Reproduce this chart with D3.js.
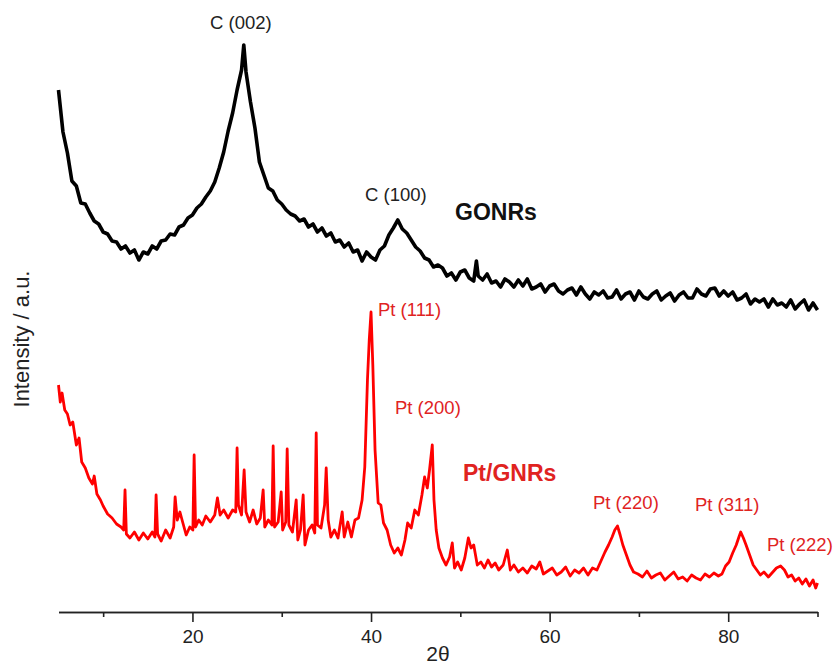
<!DOCTYPE html>
<html>
<head>
<meta charset="utf-8">
<script src="https://cdn.jsdelivr.net/npm/d3@7"></script>
<style>
  html, body { margin: 0; padding: 0; background: #fff; }
  svg { display: block; font-family: "Liberation Sans", Arial, sans-serif; }
</style>
</head>
<body>
<svg id="chart" width="837" height="665"></svg>
<script>
// ---- data (2θ in degrees, intensity in arbitrary units) ----
const gonrsTheta = [5,5.5,6,6.5,7,7.5,8,8.5,9,9.5,10,10.5,11,11.5,12,12.5,13,13.5,14,14.5,15,15.5,16,16.5,17,17.5,18,18.5,19,19.5,20,20.5,21,21.5,22,22.5,23,23.5,24,24.5,25,25.5,25.75,26,26.5,27,27.5,28,28.5,29,29.5,30,30.5,31,31.5,32,32.5,33,33.5,34,34.5,35,35.5,36,36.5,37,37.5,38,38.5,39,39.5,40,40.5,41,41.5,42,42.5,43,43.5,44,44.5,45,45.5,46,46.5,47,47.5,48,48.5,49,49.5,50,50.5,51,51.5,51.8,52,52.5,53,53.5,54,54.5,55,55.5,56,56.5,57,57.5,58,58.5,59,59.5,60,60.5,61,61.5,62,62.5,63,63.5,64,64.5,65,65.5,66,66.5,67,67.5,68,68.5,69,69.5,70,70.5,71,71.5,72,72.5,73,73.5,74,74.5,75,75.5,76,76.5,77,77.5,78,78.5,79,79.5,80,80.5,81,81.5,82,82.5,83,83.5,84,84.5,85,85.5,86,86.5,87,87.5,88,88.5,89,89.5,90];
const gonrsIntensity = [522,480,459,431,426,409,408,399,391,388,380,378,371,370,363,366,359,362,352,360,358,366,363,371,372,378,377,385,387,394,397,404,408,415,421,430,444,460,481,499,522,542,567,540,510,484,450,437,424,421,412,408,402,398,396,391,393,385,388,380,384,376,379,370,372,365,369,360,362,351,360,355,352,362,366,377,384,392,383,379,372,365,361,354,352,345,347,344,336,339,332,340,342,334,331,351,336,332,338,329,331,325,333,330,325,332,326,333,323,325,328,320,326,328,321,318,322,324,317,325,318,313,320,317,321,314,315,322,313,318,320,312,321,315,313,318,321,312,316,319,311,317,320,314,314,323,318,316,323,324,316,321,316,320,312,314,318,308,313,310,313,305,313,307,309,305,312,303,308,312,302,309,302];

const ptTheta = [5,5.2,5.4,5.7,6,6.3,6.6,7,7.3,7.6,8,8.4,8.8,9,9.3,9.7,10,10.5,11,11.5,12,12.3,12.45,12.6,13,13.5,14,14.5,15,15.5,15.8,15.93,16.1,16.5,17,17.5,17.9,18.06,18.3,18.6,18.9,19.3,19.7,20.05,20.19,20.35,20.7,21.1,21.5,22,22.5,22.8,23.1,23.5,24,24.5,24.85,25,25.15,25.5,25.79,26,26.4,26.8,27.2,27.6,27.92,28.1,28.5,28.9,29.04,29.2,29.6,29.94,30.1,30.45,30.61,30.8,31.2,31.62,31.8,32.1,32.4,32.6,33,33.4,33.7,33.86,34,34.4,34.8,34.98,35.2,35.5,35.9,36.3,36.77,37,37.4,37.8,38.2,38.6,39,39.3,39.6,39.8,40,40.2,40.45,40.8,41.1,41.4,41.8,42.2,42.6,43,43.4,43.8,44.1,44.5,44.9,45.3,45.7,46,46.3,46.55,46.86,47.05,47.3,47.6,48,48.4,48.8,49.1,49.35,49.7,50.1,50.5,50.9,51.2,51.5,51.9,52.3,52.7,53.1,53.5,53.9,54.3,54.8,55.26,55.6,56,56.5,57,57.5,58,58.5,58.9,59.3,59.8,60.3,60.8,61.3,61.8,62.3,62.8,63.3,63.8,64.3,64.8,65.3,65.8,66.2,66.6,67,67.3,67.6,67.9,68.2,68.6,69,69.4,69.9,70.4,70.9,71.4,71.9,72.4,72.9,73.4,73.9,74.4,74.9,75.4,75.9,76.4,76.9,77.4,77.9,78.4,78.9,79.3,79.7,80.1,80.5,80.9,81.2,81.4,81.7,82,82.4,82.8,83.2,83.6,84,84.5,85,85.4,85.87,86.3,86.7,87.1,87.5,87.9,88.3,88.7,89.1,89.5,89.8,90];
const ptIntensity = [227,210,219,202,198,187,190,167,174,150,144,134,128,136,118,112,106,98,94,88,85,82,122,78,74,80,72,79,73,80,75,117,78,71,82,74,85,115,92,100,90,77,85,82,157,85,92,87,96,90,97,114,97,102,94,102,100,164,107,97,142,100,90,102,88,94,122,85,92,87,166,85,90,120,82,90,163,87,80,112,72,82,117,67,82,87,79,179,87,84,107,144,92,75,82,74,100,75,90,75,92,94,112,145,232,272,300,247,162,109,107,89,82,67,59,64,57,72,89,84,102,97,117,135,124,142,167,112,82,64,54,47,55,69,44,50,42,54,74,64,67,47,50,44,52,45,49,42,47,62,42,47,40,44,39,46,43,50,38,41,44,37,40,45,36,42,39,44,37,44,42,52,60,67,75,82,86,77,67,57,47,40,38,35,41,34,37,39,32,36,40,33,35,31,37,34,32,38,35,39,36,38,46,50,59,67,75,80,74,67,57,47,42,37,40,35,40,44,46,42,35,37,31,34,28,33,26,32,24,29];

const xTicksMajor = [20, 40, 60, 80];
const xTicksMinor = [10, 30, 50, 70, 90];

const peakLabels = [
  { text: "C (002)", series: "gonrs" },
  { text: "C (100)", series: "gonrs" },
  { text: "Pt (111)", series: "pt" },
  { text: "Pt (200)", series: "pt" },
  { text: "Pt (220)", series: "pt" },
  { text: "Pt (311)", series: "pt" },
  { text: "Pt (222)", series: "pt" }
];

// ---- drawing ----
const svg = d3.select("#chart");
svg.append("rect").attr("width", 837).attr("height", 665).attr("fill", "#fff");

const x = d3.scaleLinear().domain([5, 90]).range([58.5, 817.5]);
const y = d3.scaleLinear().domain([0, 600]).range([612, 12]);

const line = d3.line().x(d => x(d[0])).y(d => y(d[1]));

const gonrs = gonrsTheta.map((t, i) => [t, gonrsIntensity[i]]);
const pt = ptTheta.map((t, i) => [t, ptIntensity[i]]);

svg.append("path").datum(gonrs)
  .attr("d", line).attr("fill", "none")
  .attr("stroke", "#000").attr("stroke-width", 3.6).attr("stroke-linejoin", "round");

svg.append("path").datum(pt)
  .attr("d", line).attr("fill", "none")
  .attr("stroke", "#ff0000").attr("stroke-width", 2.8).attr("stroke-linejoin", "round");

// x axis
const axisMajor = d3.axisBottom(x).tickValues(xTicksMajor).tickSize(10).tickSizeOuter(0).tickPadding(8).tickFormat(d3.format("d"));
const axisMinor = d3.axisBottom(x).tickValues(xTicksMinor).tickSize(5).tickSizeOuter(0).tickFormat("");

const gMinor = svg.append("g").attr("transform", "translate(0,612)").call(axisMinor);
const gMajor = svg.append("g").attr("transform", "translate(0,612)").call(axisMajor);
[gMinor, gMajor].forEach(g => {
  g.select(".domain").attr("stroke", "#222").attr("stroke-width", 1.6);
  g.selectAll(".tick line").attr("stroke", "#222").attr("stroke-width", 1.6);
});
gMajor.selectAll(".tick text").attr("font-size", 19).attr("fill", "#222")
  .attr("font-family", "'Liberation Sans', Arial, sans-serif");

// axis titles
svg.append("text").attr("x", 438).attr("y", 661).attr("text-anchor", "middle")
  .attr("font-size", 21).attr("fill", "#222").text("2θ");
svg.append("text").attr("transform", "translate(29,339) rotate(-90)")
  .attr("text-anchor", "middle").attr("font-size", 22).attr("fill", "#222")
  .text("Intensity / a.u.");

// peak labels
const labelPos = {
  "C (002)": [210, 29], "C (100)": [365, 201], "Pt (111)": [378, 316], "Pt (200)": [395, 414],
  "Pt (220)": [593, 509], "Pt (311)": [695, 511], "Pt (222)": [767, 551]
};
peakLabels.forEach(p => {
  const pos = labelPos[p.text];
  svg.append("text").attr("x", pos[0]).attr("y", pos[1])
    .attr("font-size", 18.5)
    .attr("fill", p.series === "pt" ? "#e0231f" : "#222")
    .text(p.text);
});

svg.append("text").attr("x", 455).attr("y", 220).attr("font-size", 23)
  .attr("font-weight", "bold").attr("fill", "#111").text("GONRs");
svg.append("text").attr("x", 463).attr("y", 481).attr("font-size", 23)
  .attr("font-weight", "bold").attr("fill", "#e0231f").text("Pt/GNRs");
</script>
</body>
</html>
